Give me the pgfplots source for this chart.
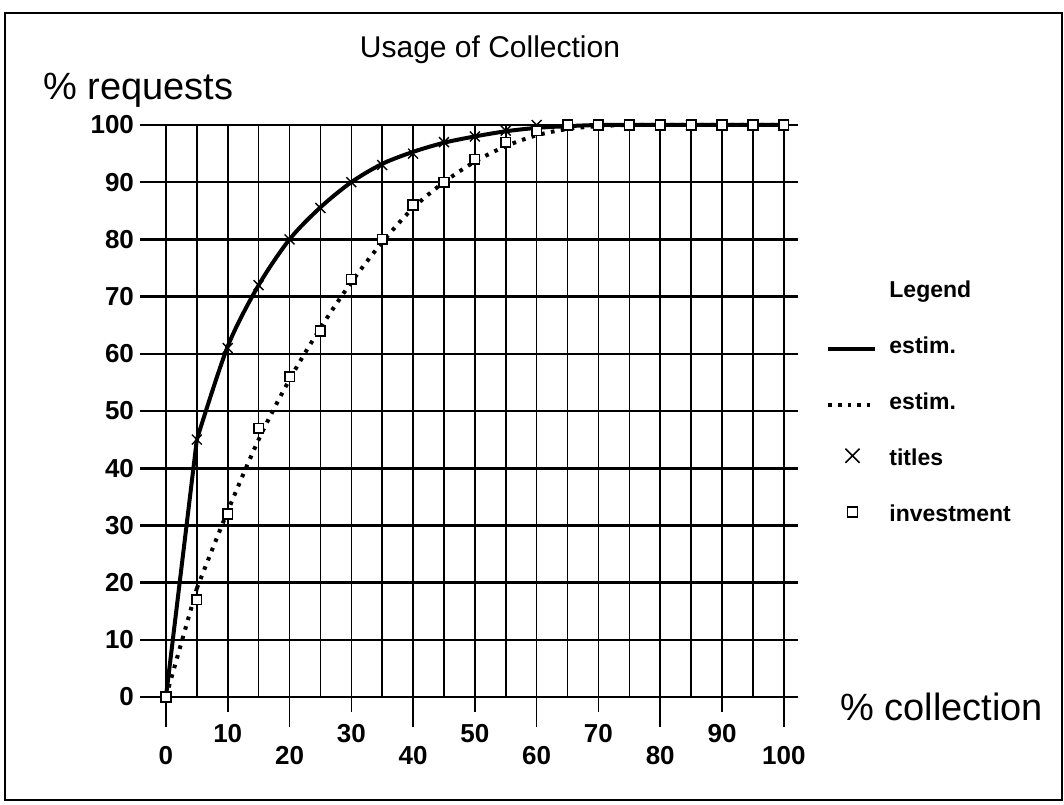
\documentclass[border=0pt]{standalone}
\usepackage{pgfplots}
\pgfplotsset{compat=1.18}
\usepackage{pgfplotstable}
\usepackage{fontspec}
\setmainfont{Liberation Sans}

% estimated curve for titles (solid)
\pgfplotstableread{
x y
5 45
10 61.3
15 72
20 80
25 85.6
30 90
35 93.2
40 95.3
45 96.9
50 98
55 98.9
60 99.5
65 99.8
70 100
75 100
80 100
85 100
90 100
95 100
100 100
}\estA
\pgfplotstableread{
x y
0 0
5 45
}\estAstart
% estimated curve for investment (dotted)
\pgfplotstableread{
x y
5 19
10 32.5
15 45
20 55.5
25 64.5
30 72.5
35 79.5
40 85.5
45 90
50 93.6
55 96.3
60 98.2
65 99.3
70 99.8
75 100
80 100
85 100
90 100
95 100
100 100
}\estB
\pgfplotstableread{
x y
0 0
5 19
}\estBstart
\pgfplotstableread{
x y
0 0
5 45
10 61
15 72
20 80
25 85.5
30 90
35 93
40 95
45 97
50 98
55 99
60 100
65 100
70 100
75 100
80 100
85 100
90 100
95 100
100 100
}\titles
\pgfplotstableread{
x y
0 0
5 17
10 32
15 47
20 56
25 64
30 73
35 80
40 86
45 90
50 94
55 97
60 99
65 100
70 100
75 100
80 100
85 100
90 100
95 100
100 100
}\invest

\begin{document}
\begin{tikzpicture}
\useasboundingbox (0,0) rectangle (532pt,402pt);
\draw[line width=1.3pt] (2.5pt,2pt) rectangle (531pt,395.5pt);
\begin{axis}[
  at={(70pt,53.5pt)}, anchor=south west,
  scale only axis, width=329pt, height=286pt,
  xmin=-4.2, xmax=102.3, ymin=0, ymax=100,
  axis x line*=bottom, axis y line*=left,
  axis line style={draw=none},
  clip=false,
  xtick={0,20,...,100},
  minor xtick={5,10,...,95},
  extra x ticks={10,30,50,70,90},
  ytick={0,10,...,100},
  grid=both,
  major grid style={black, line width=0.8pt},
  minor grid style={black, line width=0.8pt},
  x grid style={black, line width=0.8pt},
  y grid style={black, line width=1.3pt},
  tick align=outside,
  major tick length=15pt,
  minor tick length=0pt,
  xtick style={black, line width=0.8pt},
  ytick style={draw=none},
  tick label style={font=\bfseries\fontsize{13}{15}\selectfont},
  /pgf/number format/assume math mode=true,
  xticklabel style={anchor=north, yshift=-6pt},
  extra x tick style={major tick length=7.5pt, grid=major,
     xticklabel style={yshift=3.5pt}},
  yticklabel style={anchor=east, xshift=15.5pt},
  legend style={draw=none, fill=none, inner sep=0pt,
     at={(1.0426,0.731)}, anchor=north west,
     font=\bfseries\fontsize{11.5}{13}\selectfont,
     nodes={inner sep=0pt, text height=9pt, text depth=2.5pt},
     row sep=16.5pt, column sep=6pt},
  legend cell align=left,
]
\addlegendimage{empty legend}
\addlegendentry{Legend}
\addplot[black, line width=2pt, forget plot] table[x=x,y=y] {\estAstart};
\addplot[black, line width=2pt, smooth, tension=0.5,
   legend image code/.code={\draw[black, line width=2pt] (0pt,-1pt) -- (23.5pt,-1pt);}]
   table[x=x,y=y] {\estA};
\addlegendentry{estim.}
\addplot[black, line width=2pt, dash pattern=on 1.8pt off 3.2pt, forget plot] table[x=x,y=y] {\estBstart};
\addplot[black, line width=2pt, dash pattern=on 1.8pt off 3.2pt, smooth, tension=0.5,
   legend image code/.code={\draw[black, line width=2pt, dash pattern=on 1.8pt off 3pt] (0pt,-1pt) -- (23.5pt,-1pt);}]
   table[x=x,y=y] {\estB};
\addlegendentry{estim.}
\addplot[only marks, mark=x, mark size=3.5pt, mark options={black, line width=0.7pt},
   legend image code/.code={\draw[mark=x, mark size=5pt, mark options={black, line width=0.8pt}] plot coordinates {(12pt,1.5pt)};}]
   table[x=x,y=y] {\titles};
\addlegendentry{titles}
\addplot[only marks, mark=square*, mark size=2.4pt, mark options={draw=black, fill=white, line width=0.8pt},
   legend image code/.code={\draw[mark=square*, mark size=2.5pt, mark options={draw=black, fill=white, line width=0.8pt}] plot coordinates {(12pt,1.5pt)};}]
   table[x=x,y=y] {\invest};
\addlegendentry{investment}
\end{axis}
\node[anchor=center, font=\fontsize{15}{18}\selectfont] at (245pt,377pt) {Usage of Collection};
\node[anchor=west, inner sep=0pt, font=\fontsize{19}{22}\selectfont] at (21.5pt,357pt) {\% requests};
\node[anchor=west, inner sep=0pt, font=\fontsize{19}{22}\selectfont] at (420pt,48.5pt) {\% collection};
\end{tikzpicture}
\end{document}
